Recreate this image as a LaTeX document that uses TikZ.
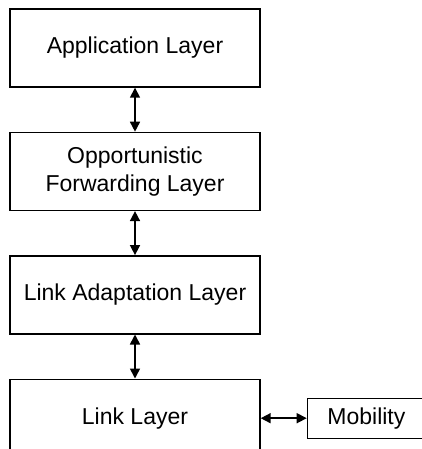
\documentclass[tikz,border=0pt]{standalone}
\usepackage{fontspec}
\setmainfont{Liberation Sans}
\usetikzlibrary{positioning}
\usetikzlibrary{arrows.meta}
\tikzset{
    layer/.style={draw,line width=0.7pt,minimum width=125pt,minimum height=39pt,inner sep=0pt,align=center,font=\fontsize{11.5}{14}\selectfont},
    twoway/.style={{Triangle[length=5pt,width=5pt]}-{Triangle[length=5pt,width=5pt]},line width=0.8pt}
}

\begin{document}
\begin{tikzpicture}
\clip (0,0) rectangle (211pt,-224.5pt);
\node[layer] (app) at (67.5pt,-24pt) {Application Layer};
\node[layer,below=22pt of app] (fwd) {Opportunistic\\Forwarding Layer};
\node[layer,below=22pt of fwd] (adapt) {Link Adaptation Layer};
\node[layer,below=22pt of adapt] (link) {Link Layer};
\node[layer,minimum width=59pt,minimum height=20pt,right=23pt of link] (mob) {Mobility};
\draw[twoway] (app) -- (fwd);
\draw[twoway] (fwd) -- (adapt);
\draw[twoway] (adapt) -- (link);
\draw[twoway] (link) -- (mob);
\end{tikzpicture}
\end{document}
